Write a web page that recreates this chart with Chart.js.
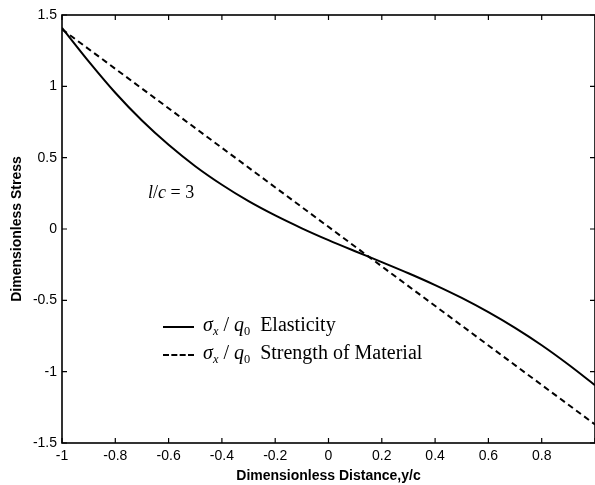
<!DOCTYPE html>
<html>
<head>
<meta charset="utf-8">
<script src="https://cdn.jsdelivr.net/npm/chart.js@4/dist/chart.umd.min.js"></script>
<style>
  html, body { margin: 0; padding: 0; background: #fff; overflow: hidden; }
  #wrap { position: relative; width: 600px; height: 485px; }
  .note { position: absolute; font-family: "Liberation Serif", "Times New Roman", serif; color: #000; white-space: nowrap; }
  .note sub { font-size: 62%; vertical-align: -0.35em; }
  .sample { position: absolute; width: 31px; height: 0; border-top: 2px solid #000; }
  .sample.dash { border-top: 2px dashed #000; }
</style>
</head>
<body>
<div id="wrap">
  <canvas id="chart"></canvas>
  <div class="note" style="left:148px; top:182px; font-size:18px;"><i>l</i>/<i>c</i> = 3</div>
  <div class="sample" style="left:163px; top:326px;"></div>
  <div class="note" style="left:203px; top:313px; font-size:20px;"><i>σ</i><sub><i>x</i></sub> / <i>q</i><sub>0</sub>&nbsp; Elasticity</div>
  <div class="sample dash" style="left:163px; top:354px;"></div>
  <div class="note" style="left:203px; top:341px; font-size:20px;"><i>σ</i><sub><i>x</i></sub> / <i>q</i><sub>0</sub>&nbsp; Strength of Material</div>
</div>
<script>
"use strict";

// Dimensionless stress vs. distance, l/c = 3

const distance = [-1, -0.9, -0.8, -0.7, -0.6, -0.5, -0.4, -0.3, -0.2, -0.1, 0,
                  0.1, 0.2, 0.3, 0.4, 0.5, 0.6, 0.7, 0.8, 0.9, 1];
const elasticity = [1.41, 1.175, 0.955, 0.76, 0.59, 0.44, 0.31, 0.195, 0.095, 0.005, -0.078,
                    -0.156, -0.232, -0.31, -0.393, -0.483, -0.583, -0.693, -0.815, -0.95, -1.095];
const somDistance = [-1, 1];
const strengthOfMaterial = [1.40, -1.37];

const xTicks = [-1, -0.8, -0.6, -0.4, -0.2, 0, 0.2, 0.4, 0.6, 0.8, 1];
const yTicks = [-1.5, -1, -0.5, 0, 0.5, 1, 1.5];

const pts = (xs, ys) => xs.map((x, i) => ({ x, y: ys[i] }));

function fmtTick(v) {
  const r = Math.round(v * 10) / 10;
  return r === 0 ? "0" : String(r);
}

// frame + inward tick marks, matlab style
const framePlugin = {
  id: "frame",
  afterDraw(chart) {
    const { ctx, chartArea: a, scales } = chart;
    ctx.save();
    ctx.strokeStyle = "#000";
    ctx.lineWidth = 1.6;
    ctx.strokeRect(a.left, a.top, a.right - a.left, a.bottom - a.top);
    ctx.lineWidth = 1.2;
    const len = 5;
    ctx.beginPath();
    for (const t of xTicks) {
      const px = scales.x.getPixelForValue(t);
      ctx.moveTo(px, a.bottom); ctx.lineTo(px, a.bottom - len);
      ctx.moveTo(px, a.top); ctx.lineTo(px, a.top + len);
    }
    for (const t of yTicks) {
      const py = scales.y.getPixelForValue(t);
      ctx.moveTo(a.left, py); ctx.lineTo(a.left + len, py);
      ctx.moveTo(a.right, py); ctx.lineTo(a.right - len, py);
    }
    ctx.stroke();
    ctx.restore();
  },
};

const tickFont = { family: "'Liberation Sans', Arial, sans-serif", size: 14 };
const titleFont = { family: "'Liberation Sans', Arial, sans-serif", size: 14, weight: "bold" };

new Chart(document.getElementById("chart"), {
  type: "line",
  data: {
    datasets: [
      {
        label: "Elasticity",
        data: pts(distance, elasticity),
        borderColor: "#000",
        borderWidth: 2,
        pointRadius: 0,
        cubicInterpolationMode: "monotone",
      },
      {
        label: "Strength of Material",
        data: pts(somDistance, strengthOfMaterial),
        borderColor: "#000",
        borderWidth: 2,
        borderDash: [6, 4],
        pointRadius: 0,
      },
    ],
  },
  options: {
    animation: false,
    responsive: true,
    maintainAspectRatio: false,
    layout: { padding: { top: 15, right: 3, left: 0, bottom: 0 } },
    plugins: { legend: { display: false }, tooltip: { enabled: false } },
    scales: {
      x: {
        type: "linear",
        min: -1,
        max: 1,
        afterBuildTicks: (s) => { s.ticks = xTicks.map(v => ({ value: v })); },
        afterFit: (s) => { s.height = 42; },
        grid: { display: false, drawTicks: false },
        border: { display: false },
        ticks: {
          color: "#000",
          font: tickFont,
          padding: 5,
          maxRotation: 0,
          autoSkip: false,
          callback: (v) => (v >= 1 ? "" : fmtTick(v)),
        },
        title: {
          display: true,
          text: "Dimensionless Distance,y/c",
          color: "#000",
          font: titleFont,
          padding: { top: 0, bottom: 0 },
        },
      },
      y: {
        type: "linear",
        min: -1.5,
        max: 1.5,
        afterBuildTicks: (s) => { s.ticks = yTicks.map(v => ({ value: v })); },
        afterFit: (s) => { s.width = 62; },
        grid: { display: false, drawTicks: false },
        border: { display: false },
        ticks: { color: "#000", font: tickFont, padding: 5, callback: fmtTick },
        title: {
          display: true,
          text: "Dimensionless Stress",
          color: "#000",
          font: titleFont,
          padding: { top: 9, bottom: 0 },
        },
      },
    },
  },
  plugins: [framePlugin],
});
</script>
</body>
</html>
